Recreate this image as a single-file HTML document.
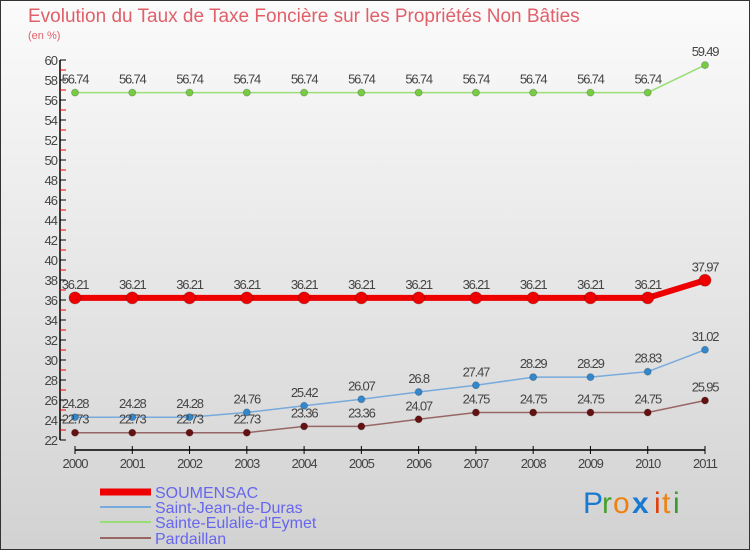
<!DOCTYPE html>
<html><head><meta charset="utf-8"><style>
body{margin:0;width:750px;height:550px;overflow:hidden;font-family:"Liberation Sans",sans-serif}
svg{display:block}
</style></head><body>
<svg id="c" width="750" height="550" xmlns="http://www.w3.org/2000/svg">
<defs><linearGradient id="bg" x1="0" y1="0" x2="0" y2="1"><stop offset="0" stop-color="#fbfbfb"/><stop offset="1" stop-color="#d2d2d2"/></linearGradient></defs>
<rect x="0.5" y="0.5" width="749" height="549" fill="url(#bg)" stroke="#333"/>
<text x="28" y="22" font-size="19" fill="#e0606a">Evolution du Taux de Taxe Foncière sur les Propriétés Non Bâties</text>
<text x="28" y="39" font-size="11" fill="#e0606a">(en %)</text>
<g id="axes"></g><g id="series"></g><g id="legend"></g>
<g font-size="30" font-family="Liberation Sans,sans-serif">
<text x="583" y="513" fill="#1a7ad0">P</text><text x="602" y="513" fill="#4aa030">r</text><text x="613" y="513" fill="#f08010">o</text><text x="632" y="513" fill="#1a7ad0" font-weight="bold">x</text><text x="654" y="513" fill="#e04010">i</text><text x="662" y="513" fill="#f08010">t</text><text x="673" y="513" fill="#3a9a30">i</text>
</g>
</svg>
<script>
const years=[2000,2001,2002,2003,2004,2005,2006,2007,2008,2009,2010,2011];
const yTicks=[22,24,26,28,30,32,34,36,38,40,42,44,46,48,50,52,54,56,58,60];
const seriesNames=["SOUMENSAC","Saint-Jean-de-Duras","Sainte-Eulalie-d'Eymet","Pardaillan"];
const soumensac=[36.21,36.21,36.21,36.21,36.21,36.21,36.21,36.21,36.21,36.21,36.21,37.97];
const saintJean=[24.28,24.28,24.28,24.76,25.42,26.07,26.8,27.47,28.29,28.29,28.83,31.02];
const sainteEulalie=[56.74,56.74,56.74,56.74,56.74,56.74,56.74,56.74,56.74,56.74,56.74,59.49];
const pardaillan=[22.73,22.73,22.73,22.73,23.36,23.36,24.07,24.75,24.75,24.75,24.75,25.95];
const NS="http://www.w3.org/2000/svg";
function el(t,a,p){const e=document.createElementNS(NS,t);for(const k in a)e.setAttribute(k,a[k]);p.appendChild(e);return e;}
const x=i=>75+i*(630/(years.length-1));
const y=v=>440-(v-22)*10;
const ax=document.getElementById('axes');
let yl=el('line',{x1:60,y1:y(60),x2:60,y2:y(22),stroke:'#000','stroke-width':1.5},ax);


yTicks.forEach(v=>{
 el('line',{x1:60,x2:66,y1:y(v),y2:y(v),stroke:'#000'},ax);
 el('line',{x1:60,x2:66,y1:y(v+1),y2:y(v+1),stroke:v<60?'#e00':'none'},ax);
 const t=el('text',{x:57,y:y(v)+5,'text-anchor':'end','font-size':13,fill:'#444','letter-spacing':'-1'},ax);t.textContent=v;
 
 
});
let xl=el('line',{x1:x(0),y1:450,x2:x(11),y2:450,stroke:'#000','stroke-width':1.5},ax);


years.forEach((yr,i)=>{
 el('line',{x1:x(i),x2:x(i),y1:446,y2:454,stroke:'#000'},ax);
 const t=el('text',{x:x(i),y:468,'text-anchor':'middle','font-size':13,fill:'#444','letter-spacing':'-1'},ax);t.textContent=yr;
 
 
});
const defs=[[sainteEulalie,'#99dd77','#77cc44',1.5,3.5,'sainte-eulalie'],[saintJean,'#77aadd','#3388cc',1.5,3.5,'saint-jean'],[pardaillan,'#996666','#661111',1.5,3.5,'pardaillan'],[soumensac,'#ee0000','#ee0000',6,6,'soumensac']];
const sg=document.getElementById('series');
defs.forEach(([d,lc,pc,w,r,n])=>{
 const g=el('g',{},sg);
 
 
 el('polyline',{points:d.map((v,i)=>x(i)+','+y(v)).join(' '),fill:'none',stroke:lc,'stroke-width':w},g);
 d.forEach((v,i)=>{
  const c=el('circle',{cx:x(i),cy:y(v),r:r,fill:pc,stroke:'#0003'},g);
  
  
  const t=el('text',{x:x(i),y:y(v)-9,'text-anchor':'middle','font-size':13,fill:'#444','letter-spacing':'-1.2'},g);
  t.textContent=v;
  
  
 });
});
const lg=document.getElementById('legend');
const lcols=['#ee0000','#77aadd','#99dd77','#996666'],lw=[7,2,2,2],ly=[492,507,522,538];
seriesNames.forEach((s,i)=>{
 const g=el('g',{},lg);
 
 
 el('line',{x1:100,x2:151,y1:ly[i],y2:ly[i],stroke:lcols[i],'stroke-width':lw[i]},g);
 const t=el('text',{x:155,y:ly[i]+6,'font-size':16,fill:'#6666ee'},g);t.textContent=s;
});
</script>
</body></html>
